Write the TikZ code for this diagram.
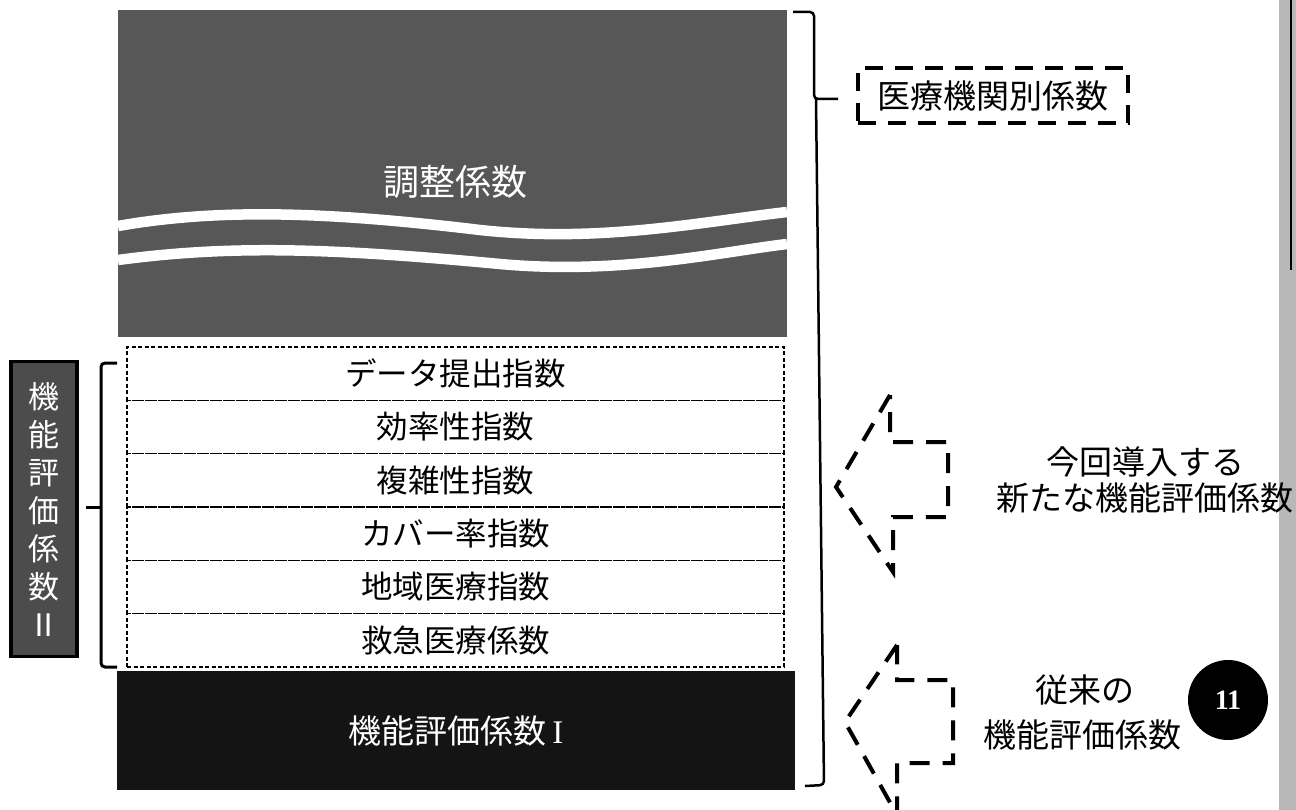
\documentclass[tikz,border=0pt]{standalone}
\usepackage{fontspec}
\newfontfamily\cjk{Noto Sans CJK JP}
\newfontfamily\serifnum{Liberation Serif}
\usetikzlibrary{calc}
\tikzset{
  rowbox/.style={draw, dash pattern=on 4pt off 2.5pt, line width=1.3pt, minimum width=657pt, minimum height=53.33pt, inner sep=0pt, font=\cjk\fontsize{31.5}{33}\selectfont},
  bigtext/.style={font=\cjk\fontsize{33}{36}\selectfont, inner sep=0pt},
  bracestyle/.style={line width=3pt, rounded corners=4pt},
  dasharrow/.style={line width=4pt, dash pattern=on 20pt off 13pt, line join=miter},
  wave/.style={white, line width=10.5pt}
}
\begin{document}
\begin{tikzpicture}[x=1pt,y=-1pt]
\useasboundingbox (0,0) rectangle (1296,810);
% right strip
\fill[black!28] (1279,0) rectangle (1296,810);
\draw[line width=2.5pt] (1291,0) -- (1291,270);

% adjustment coefficient block
\node[fill=black!66, minimum width=669pt, minimum height=327pt, inner sep=0pt] (adj) at (452.5,173.5) {};
\draw[wave] (118,226) .. controls (220,208) and (330,212) .. (480,230) .. controls (600,243) and (700,222) .. (787,212);
\draw[wave] (118,260) .. controls (230,245) and (330,248) .. (500,264) .. controls (620,275) and (720,252) .. (787,244);
\node[bigtext, white, font=\cjk\fontsize{36}{38}\selectfont] (adjt) at (455,182) {調整係数};

% stack of new indices
\node[rowbox] (r1) at (455.5,373.7) {データ提出指数};
\node[rowbox] (r2) at (455.5,427.0) {効率性指数};
\node[rowbox] (r3) at (455.5,480.3) {複雑性指数};
\node[rowbox] (r4) at (455.5,533.7) {カバー率指数};
\node[rowbox] (r5) at (455.5,587.0) {地域医療指数};
\node[rowbox] (r6) at (455.5,640.3) {救急医療係数};

% function evaluation coefficient I
\node[fill=black!92, minimum width=678pt, minimum height=119pt, inner sep=0pt, text=white, font=\cjk\fontsize{33}{36}\selectfont] (f1) at (456,730.5) {機能評価係数\,{\serifnum I}};

% left vertical label
\node[draw, line width=3.5pt, fill=black!70, minimum width=66pt, minimum height=295pt, inner sep=0pt] (f2) at (44,509) {};
\foreach \c [count=\i from 0] in {機,能,評,価,係,数,Ⅱ}{
  \node[text=white, font=\cjk\fontsize{31}{32}\selectfont, inner sep=0pt] at (44,{397+\i*38}) {\c};
}

% left brace
\draw[bracestyle] (117,363) -- (101,363) -- (101,667) -- (117,667);
\draw[line width=3pt] (101,507) -- (86,507);

% right brace
\draw[bracestyle, line width=2.5pt] (793,12) -- (814,12) -- (814,99) -- (838,99);
\draw[bracestyle, line width=2.5pt] (816,99) -- (824,785) -- (805,786);

% label box
\node[draw, line width=4pt, dash pattern=on 18pt off 12pt, minimum width=270pt, minimum height=55pt, inner sep=0pt, font=\cjk\fontsize{33}{36}\selectfont] (hosp) at (993,95.5) {医療機関別係数};

% dashed arrows
\draw[dasharrow] (890,395) -- (836,487) -- (893,572) -- (893,517) -- (948,517) -- (948,442) -- (890,442) -- cycle;
\draw[dasharrow] (897,645) -- (845,722) -- (897,815) -- (897,763) -- (953,763) -- (953,680) -- (897,680) -- cycle;

% right texts
\node[bigtext] (n1) at (1145,462) {今回導入する};
\node[bigtext] (n2) at (1145,498) {新たな機能評価係数};
\node[bigtext] (o1) at (1085,690) {従来の};
\node[bigtext] (o2) at (1082,735) {機能評価係数};

% page badge
\node[circle, fill=black, minimum size=80pt, inner sep=0pt, text=white, font=\serifnum\bfseries\fontsize{28}{30}\selectfont] (badge) at (1228,700) {11};
\end{tikzpicture}
\end{document}
